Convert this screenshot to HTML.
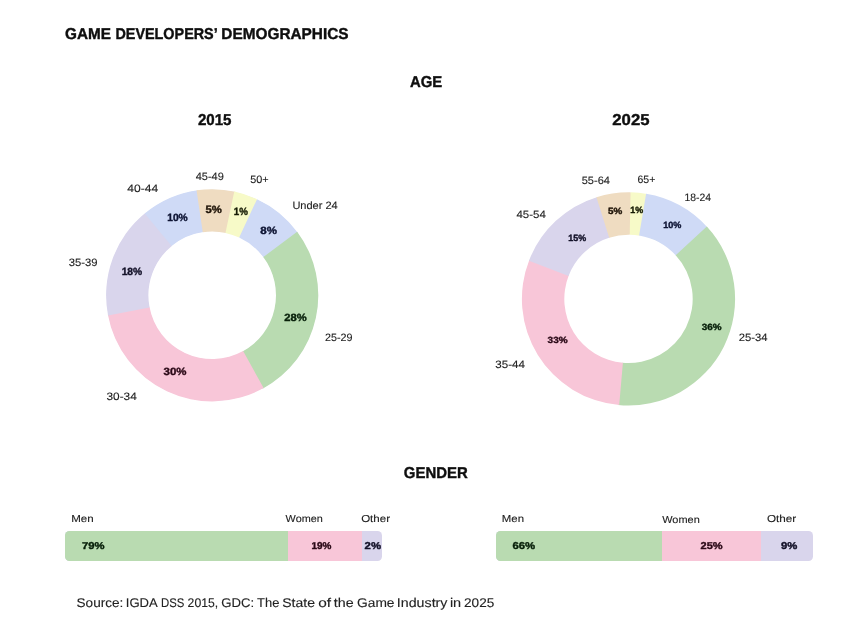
<!DOCTYPE html>
<html><head><meta charset="utf-8"><style>*{margin:0;padding:0;box-sizing:border-box}
html,body{width:850px;height:632px;background:#fff;overflow:hidden}
body{position:relative;font-family:"Liberation Sans",sans-serif}
.t{position:absolute;left:0;top:0;white-space:nowrap;line-height:1;transform-origin:0 0;text-rendering:geometricPrecision}
#w{position:absolute;left:0;top:0;width:850px;height:632px;filter:grayscale(0)}
svg{position:absolute;left:0;top:0}</style></head><body><div id="w">
<svg width="850" height="632" viewBox="0 0 850 632">
<path fill="#cfdaf6" d="M212.20 189.80A105.5 105.5 0 0 1 212.20 400.80L212.20 359.70A64.39999999999999 64.39999999999999 0 0 0 212.20 230.90ZM212.20 400.80A105.5 105.5 0 0 1 212.20 189.80L212.20 230.90A64.39999999999999 64.39999999999999 0 0 0 212.20 359.70Z"/>
<path fill="#cfdaf6" d="M257.04 199.14A106.1 106.1 0 0 1 297.82 232.64L263.68 257.62A63.8 63.8 0 0 0 239.16 237.48Z"/>
<path fill="#b9dbb1" d="M297.16 231.74A106.1 106.1 0 0 1 262.66 388.63L242.54 351.42A63.8 63.8 0 0 0 263.29 257.08Z"/>
<path fill="#f8c6d8" d="M263.64 388.10A106.1 106.1 0 0 1 107.84 314.45L149.45 306.82A63.8 63.8 0 0 0 243.13 351.10Z"/>
<path fill="#d9d5ec" d="M108.05 315.54A106.1 106.1 0 0 1 145.57 212.73L172.14 245.65A63.8 63.8 0 0 0 149.57 307.47Z"/>
<path fill="#cfdaf6" d="M144.71 213.43A106.1 106.1 0 0 1 197.62 190.21L203.43 232.11A63.8 63.8 0 0 0 171.62 246.07Z"/>
<path fill="#efdcc1" d="M196.52 190.37A106.1 106.1 0 0 1 235.34 191.76L226.12 233.04A63.8 63.8 0 0 0 202.77 232.20Z"/>
<path fill="#f7fac8" d="M234.26 191.52A106.1 106.1 0 0 1 257.04 199.14L239.16 237.48A63.8 63.8 0 0 0 225.46 232.89Z"/>
<path fill="#f7fac8" d="M628.50 192.90A106.0 106.0 0 0 1 628.50 404.90L628.50 363.70A64.8 64.8 0 0 0 628.50 234.10ZM628.50 404.90A106.0 106.0 0 0 1 628.50 192.90L628.50 234.10A64.8 64.8 0 0 0 628.50 363.70Z"/>
<path fill="#f7fac8" d="M630.55 192.32A106.6 106.6 0 0 1 647.19 193.95L639.76 235.69A64.2 64.2 0 0 0 629.73 234.71Z"/>
<path fill="#cfdaf6" d="M646.09 193.76A106.6 106.6 0 0 1 707.59 227.43L676.13 255.86A64.2 64.2 0 0 0 639.10 235.58Z"/>
<path fill="#b9dbb1" d="M706.84 226.61A106.6 106.6 0 0 1 618.10 404.99L622.24 362.79A64.2 64.2 0 0 0 675.68 255.36Z"/>
<path fill="#f8c6d8" d="M619.21 405.09A106.6 106.6 0 0 1 529.39 259.66L568.81 275.27A64.2 64.2 0 0 0 622.90 362.86Z"/>
<path fill="#d9d5ec" d="M528.98 260.70A106.6 106.6 0 0 1 597.51 196.90L609.84 237.47A64.2 64.2 0 0 0 568.56 275.89Z"/>
<path fill="#efdcc1" d="M596.44 197.23A106.6 106.6 0 0 1 630.55 192.32L629.73 234.71A64.2 64.2 0 0 0 609.19 237.67Z"/>
</svg>
<div style="position:absolute;left:65.10px;top:531.10px;width:317.20px;height:29.80px;border-radius:4.5px;overflow:hidden;background:#d9d5ec"><div style="position:absolute;left:0;top:0;width:223.60px;height:100%;background:#b9dbb1"></div><div style="position:absolute;left:222.60px;top:0;width:74.80px;height:100%;background:#f8c6d8"></div></div>
<div style="position:absolute;left:496.00px;top:531.10px;width:317.00px;height:29.80px;border-radius:4.5px;overflow:hidden;background:#d9d5ec"><div style="position:absolute;left:0;top:0;width:167.20px;height:100%;background:#b9dbb1"></div><div style="position:absolute;left:166.20px;top:0;width:99.10px;height:100%;background:#f8c6d8"></div></div>
<span class="t" style="transform:translate(65.10px,27.26px) scaleX(0.9757);font-size:15.68px;font-weight:700;color:#0e0e0e;-webkit-text-stroke:0.4px #0e0e0e">GAME</span>
<span class="t" style="transform:translate(115.41px,27.26px) scaleX(0.9176);font-size:15.68px;font-weight:700;color:#0e0e0e;-webkit-text-stroke:0.4px #0e0e0e">DEVELOPERS’</span>
<span class="t" style="transform:translate(221.37px,27.26px) scaleX(0.9805);font-size:15.68px;font-weight:700;color:#0e0e0e;-webkit-text-stroke:0.4px #0e0e0e">DEMOGRAPHICS</span>
<span class="t" style="transform:translate(409.91px,75.41px) scaleX(0.9495);font-size:15.68px;font-weight:700;color:#0e0e0e;-webkit-text-stroke:0.4px #0e0e0e">AGE</span>
<span class="t" style="transform:translate(197.90px,113.10px) scaleX(0.9643);font-size:15.68px;font-weight:700;color:#0e0e0e;-webkit-text-stroke:0.4px #0e0e0e">2015</span>
<span class="t" style="transform:translate(612.32px,113.25px) scaleX(1.0664);font-size:15.68px;font-weight:700;color:#0e0e0e;-webkit-text-stroke:0.4px #0e0e0e">2025</span>
<span class="t" style="transform:translate(403.87px,466.21px) scaleX(0.9522);font-size:15.68px;font-weight:700;color:#0e0e0e;-webkit-text-stroke:0.4px #0e0e0e">GENDER</span>
<span class="t" style="transform:translate(76.51px,596.57px) scaleX(1.0774);font-size:12.64px;font-weight:400;color:#222222;-webkit-text-stroke:0.12px #222222">Source:</span>
<span class="t" style="transform:translate(125.78px,596.57px) scaleX(1.0358);font-size:12.64px;font-weight:400;color:#222222;-webkit-text-stroke:0.12px #222222">IGDA</span>
<span class="t" style="transform:translate(160.94px,596.57px) scaleX(0.9007);font-size:12.64px;font-weight:400;color:#222222;-webkit-text-stroke:0.12px #222222">DSS</span>
<span class="t" style="transform:translate(187.61px,596.57px) scaleX(0.9668);font-size:12.64px;font-weight:400;color:#222222;-webkit-text-stroke:0.12px #222222">2015,</span>
<span class="t" style="transform:translate(221.28px,596.57px) scaleX(1.0420);font-size:12.64px;font-weight:400;color:#222222;-webkit-text-stroke:0.12px #222222">GDC:</span>
<span class="t" style="transform:translate(257.03px,596.57px) scaleX(1.0249);font-size:12.64px;font-weight:400;color:#222222;-webkit-text-stroke:0.12px #222222">The</span>
<span class="t" style="transform:translate(282.25px,596.57px) scaleX(1.1110);font-size:12.64px;font-weight:400;color:#222222;-webkit-text-stroke:0.12px #222222">State</span>
<span class="t" style="transform:translate(318.19px,596.57px) scaleX(1.2214);font-size:12.64px;font-weight:400;color:#222222;-webkit-text-stroke:0.12px #222222">of</span>
<span class="t" style="transform:translate(333.82px,596.57px) scaleX(1.1287);font-size:12.64px;font-weight:400;color:#222222;-webkit-text-stroke:0.12px #222222">the</span>
<span class="t" style="transform:translate(357.05px,596.57px) scaleX(1.0887);font-size:12.64px;font-weight:400;color:#222222;-webkit-text-stroke:0.12px #222222">Game</span>
<span class="t" style="transform:translate(396.85px,596.57px) scaleX(1.1264);font-size:12.64px;font-weight:400;color:#222222;-webkit-text-stroke:0.12px #222222">Industry</span>
<span class="t" style="transform:translate(449.89px,596.57px) scaleX(1.1500);font-size:12.64px;font-weight:400;color:#222222;-webkit-text-stroke:0.12px #222222">in</span>
<span class="t" style="transform:translate(464.05px,596.57px) scaleX(1.0765);font-size:12.64px;font-weight:400;color:#222222;-webkit-text-stroke:0.12px #222222">2025</span>
<span class="t" style="transform:translate(127.34px,183.89px) scaleX(1.1238);font-size:10.73px;font-weight:400;color:#222222;-webkit-text-stroke:0.12px #222222">40-44</span>
<span class="t" style="transform:translate(195.66px,172.12px) scaleX(1.0294);font-size:10.73px;font-weight:400;color:#222222;-webkit-text-stroke:0.12px #222222">45-49</span>
<span class="t" style="transform:translate(250.30px,174.57px) scaleX(1.0113);font-size:10.73px;font-weight:400;color:#222222;-webkit-text-stroke:0.12px #222222">50+</span>
<span class="t" style="transform:translate(292.40px,201.49px) scaleX(1.0283);font-size:10.73px;font-weight:400;color:#222222;-webkit-text-stroke:0.12px #222222">Under 24</span>
<span class="t" style="transform:translate(68.82px,257.80px) scaleX(1.0495);font-size:10.73px;font-weight:400;color:#222222;-webkit-text-stroke:0.12px #222222">35-39</span>
<span class="t" style="transform:translate(324.97px,332.65px) scaleX(1.0043);font-size:10.73px;font-weight:400;color:#222222;-webkit-text-stroke:0.12px #222222">25-29</span>
<span class="t" style="transform:translate(106.50px,392.44px) scaleX(1.1028);font-size:10.73px;font-weight:400;color:#222222;-webkit-text-stroke:0.12px #222222">30-34</span>
<span class="t" style="transform:translate(581.71px,175.87px) scaleX(1.0279);font-size:10.73px;font-weight:400;color:#222222;-webkit-text-stroke:0.12px #222222">55-64</span>
<span class="t" style="transform:translate(637.39px,174.90px) scaleX(0.9859);font-size:10.73px;font-weight:400;color:#222222;-webkit-text-stroke:0.12px #222222">65+</span>
<span class="t" style="transform:translate(684.38px,192.75px) scaleX(0.9691);font-size:10.73px;font-weight:400;color:#222222;-webkit-text-stroke:0.12px #222222">18-24</span>
<span class="t" style="transform:translate(516.46px,209.64px) scaleX(1.0698);font-size:10.73px;font-weight:400;color:#222222;-webkit-text-stroke:0.12px #222222">45-54</span>
<span class="t" style="transform:translate(738.69px,332.65px) scaleX(1.0519);font-size:10.73px;font-weight:400;color:#222222;-webkit-text-stroke:0.12px #222222">25-34</span>
<span class="t" style="transform:translate(495.35px,359.79px) scaleX(1.0807);font-size:10.73px;font-weight:400;color:#222222;-webkit-text-stroke:0.12px #222222">35-44</span>
<span class="t" style="transform:translate(167.21px,213.25px) scaleX(0.9754);font-size:10.52px;font-weight:700;color:#0f1535;-webkit-text-stroke:0.4px #0f1535">10%</span>
<span class="t" style="transform:translate(205.43px,204.94px) scaleX(1.0722);font-size:10.52px;font-weight:700;color:#21160a;-webkit-text-stroke:0.4px #21160a">5%</span>
<span class="t" style="transform:translate(233.78px,207.00px) scaleX(0.9240);font-size:10.52px;font-weight:700;color:#161b04;-webkit-text-stroke:0.4px #161b04">1%</span>
<span class="t" style="transform:translate(260.26px,226.35px) scaleX(1.0954);font-size:10.52px;font-weight:700;color:#0f1535;-webkit-text-stroke:0.4px #0f1535">8%</span>
<span class="t" style="transform:translate(121.66px,266.80px) scaleX(0.9754);font-size:10.52px;font-weight:700;color:#131128;-webkit-text-stroke:0.4px #131128">18%</span>
<span class="t" style="transform:translate(284.36px,313.45px) scaleX(1.0637);font-size:10.52px;font-weight:700;color:#08200a;-webkit-text-stroke:0.4px #08200a">28%</span>
<span class="t" style="transform:translate(163.54px,367.45px) scaleX(1.0888);font-size:10.52px;font-weight:700;color:#2c0a18;-webkit-text-stroke:0.4px #2c0a18">30%</span>
<span class="t" style="transform:translate(608.08px,207.09px) scaleX(1.0933);font-size:9.00px;font-weight:700;color:#21160a;-webkit-text-stroke:0.4px #21160a">5%</span>
<span class="t" style="transform:translate(630.36px,205.55px) scaleX(0.9889);font-size:9.00px;font-weight:700;color:#161b04;-webkit-text-stroke:0.4px #161b04">1%</span>
<span class="t" style="transform:translate(663.22px,220.90px) scaleX(1.0084);font-size:9.00px;font-weight:700;color:#0f1535;-webkit-text-stroke:0.4px #0f1535">10%</span>
<span class="t" style="transform:translate(568.21px,234.24px) scaleX(0.9907);font-size:9.00px;font-weight:700;color:#131128;-webkit-text-stroke:0.4px #131128">15%</span>
<span class="t" style="transform:translate(701.71px,322.94px) scaleX(1.0976);font-size:9.00px;font-weight:700;color:#08200a;-webkit-text-stroke:0.4px #08200a">36%</span>
<span class="t" style="transform:translate(547.59px,335.90px) scaleX(1.1093);font-size:9.00px;font-weight:700;color:#2c0a18;-webkit-text-stroke:0.4px #2c0a18">33%</span>
<span class="t" style="transform:translate(71.23px,514.70px) scaleX(1.1432);font-size:10.12px;font-weight:400;color:#222222;-webkit-text-stroke:0.12px #222222">Men</span>
<span class="t" style="transform:translate(285.62px,514.95px) scaleX(1.0726);font-size:10.12px;font-weight:400;color:#222222;-webkit-text-stroke:0.12px #222222">Women</span>
<span class="t" style="transform:translate(361.13px,514.80px) scaleX(1.1438);font-size:10.12px;font-weight:400;color:#222222;-webkit-text-stroke:0.12px #222222">Other</span>
<span class="t" style="transform:translate(81.99px,542.00px) scaleX(1.1294);font-size:9.96px;font-weight:700;color:#08200a;-webkit-text-stroke:0.4px #08200a">79%</span>
<span class="t" style="transform:translate(311.38px,541.75px) scaleX(0.9998);font-size:9.96px;font-weight:700;color:#2c0a18;-webkit-text-stroke:0.4px #2c0a18">19%</span>
<span class="t" style="transform:translate(364.62px,541.75px) scaleX(1.1420);font-size:9.96px;font-weight:700;color:#131128;-webkit-text-stroke:0.4px #131128">2%</span>
<span class="t" style="transform:translate(501.81px,514.72px) scaleX(1.1281);font-size:10.12px;font-weight:400;color:#222222;-webkit-text-stroke:0.12px #222222">Men</span>
<span class="t" style="transform:translate(662.25px,516.00px) scaleX(1.0812);font-size:10.12px;font-weight:400;color:#222222;-webkit-text-stroke:0.12px #222222">Women</span>
<span class="t" style="transform:translate(766.88px,514.80px) scaleX(1.1582);font-size:10.12px;font-weight:400;color:#222222;-webkit-text-stroke:0.12px #222222">Other</span>
<span class="t" style="transform:translate(512.49px,541.90px) scaleX(1.1393);font-size:9.96px;font-weight:700;color:#08200a;-webkit-text-stroke:0.4px #08200a">66%</span>
<span class="t" style="transform:translate(700.57px,541.99px) scaleX(1.1067);font-size:9.96px;font-weight:700;color:#2c0a18;-webkit-text-stroke:0.4px #2c0a18">25%</span>
<span class="t" style="transform:translate(780.94px,541.75px) scaleX(1.1336);font-size:9.96px;font-weight:700;color:#131128;-webkit-text-stroke:0.4px #131128">9%</span>
</div></body></html>
